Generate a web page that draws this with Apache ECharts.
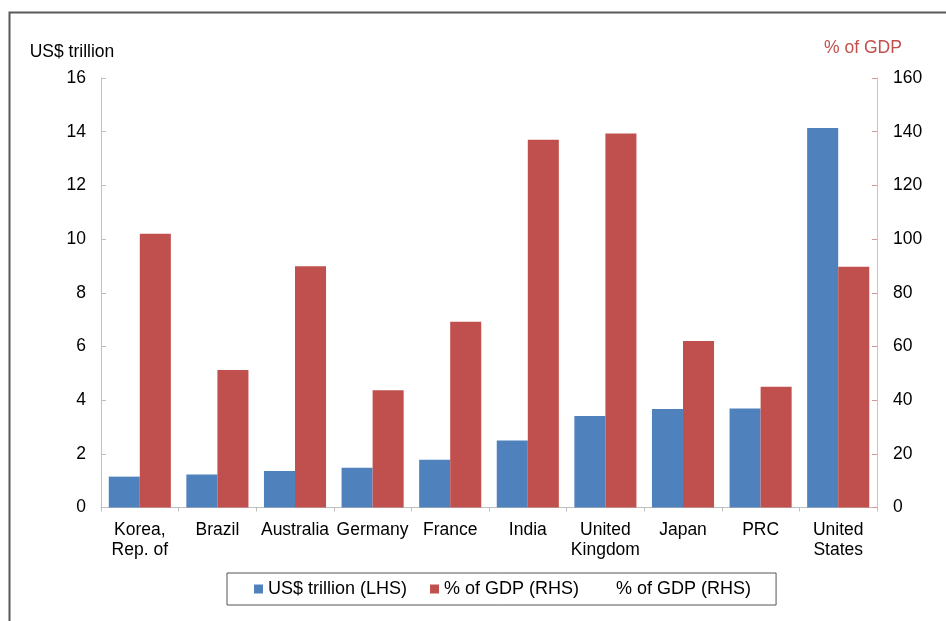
<!DOCTYPE html>
<html>
<head>
<meta charset="utf-8">
<script src="https://cdn.jsdelivr.net/npm/echarts@6/dist/echarts.min.js"></script>
<style>
html,body{margin:0;padding:0;background:#fff;}
#chart{width:946px;height:621px;}
</style>
</head>
<body>
<div id="chart"></div>
<script>
const categories = ["Korea,\nRep. of", "Brazil", "Australia", "Germany", "France", "India", "United\nKingdom", "Japan", "PRC", "United\nStates"];
const usdTrillion = [1.15, 1.23, 1.36, 1.48, 1.78, 2.50, 3.41, 3.67, 3.69, 14.14];
const gdpPct = [102.0, 51.2, 89.9, 43.7, 69.2, 137.0, 139.3, 62.0, 45.0, 89.7];
const leftTicks = {min: 0, max: 16, interval: 2};
const rightTicks = {min: 0, max: 160, interval: 20};

const chart = echarts.init(document.getElementById('chart'));
const font = 'Liberation Sans, Arial, sans-serif';
const fs = 17.5;
chart.setOption({
  animation: false,
  textStyle: {fontFamily: font},
  graphic: [{
    type: 'rect', left: 7, top: 10, silent: true,
    shape: {width: 1000, height: 700},
    style: {fill: 'none', stroke: '#595959', lineWidth: 2}
  }],
  grid: {left: 101, right: 69, top: 78, bottom: 113.5},
  legend: {
    left: 227, top: 573,
    padding: [7, 20, 7, 27],
    borderColor: '#555', borderWidth: 1,
    itemWidth: 9, itemHeight: 9, itemGap: 23, itemTextGap: 4,
    textStyle: {fontSize: 18, color: '#000', fontFamily: font},
    data: [
      {name: 'US$ trillion (LHS)', icon: 'rect'},
      {name: '% of GDP (RHS)', icon: 'rect'},
      {name: '% of GDP (RHS) ', icon: 'rect', itemStyle: {opacity: 0}}
    ]
  },
  xAxis: {
    type: 'category', data: categories,
    axisLine: {lineStyle: {color: '#bfbfbf'}},
    axisTick: {show: true, length: 4, lineStyle: {color: '#bfbfbf'}},
    axisLabel: {fontSize: fs, color: '#000', margin: 13, lineHeight: 20, interval: 0}
  },
  yAxis: [{
    type: 'value', min: leftTicks.min, max: leftTicks.max, interval: leftTicks.interval,
    name: 'US$ trillion', nameLocation: 'end', nameGap: 17,
    nameTextStyle: {fontSize: fs, color: '#000', align: 'center', padding: [0, 58, 0, 0]},
    axisLine: {show: true, lineStyle: {color: '#bfbfbf'}},
    axisTick: {show: true, inside: true, length: 5, lineStyle: {color: '#bfbfbf'}},
    splitLine: {show: false},
    axisLabel: {fontSize: fs, color: '#000', margin: 15}
  }, {
    type: 'value', min: rightTicks.min, max: rightTicks.max, interval: rightTicks.interval,
    name: '% of GDP', nameLocation: 'end', nameGap: 21,
    nameTextStyle: {fontSize: fs, color: '#c0504d', align: 'center', padding: [0, 28, 0, 0]},
    axisLine: {show: true, lineStyle: {color: '#e6b9b8'}},
    axisTick: {show: true, inside: true, length: 5, lineStyle: {color: '#d99694'}},
    splitLine: {show: false},
    axisLabel: {fontSize: fs, color: '#000', margin: 16}
  }],
  series: [{
    name: 'US$ trillion (LHS)', type: 'bar', yAxisIndex: 0, data: usdTrillion,
    barGap: '0%', barCategoryGap: '20%',
    itemStyle: {color: '#4f81bd'}
  }, {
    name: '% of GDP (RHS)', type: 'bar', yAxisIndex: 1, data: gdpPct,
    barGap: '0%', barCategoryGap: '20%',
    itemStyle: {color: '#c0504d'}
  }, {
    name: '% of GDP (RHS) ', type: 'line', yAxisIndex: 1, data: [],
    itemStyle: {color: 'rgba(0,0,0,0)'}, lineStyle: {opacity: 0}, symbol: 'none'
  }]
});
</script>
</body>
</html>
